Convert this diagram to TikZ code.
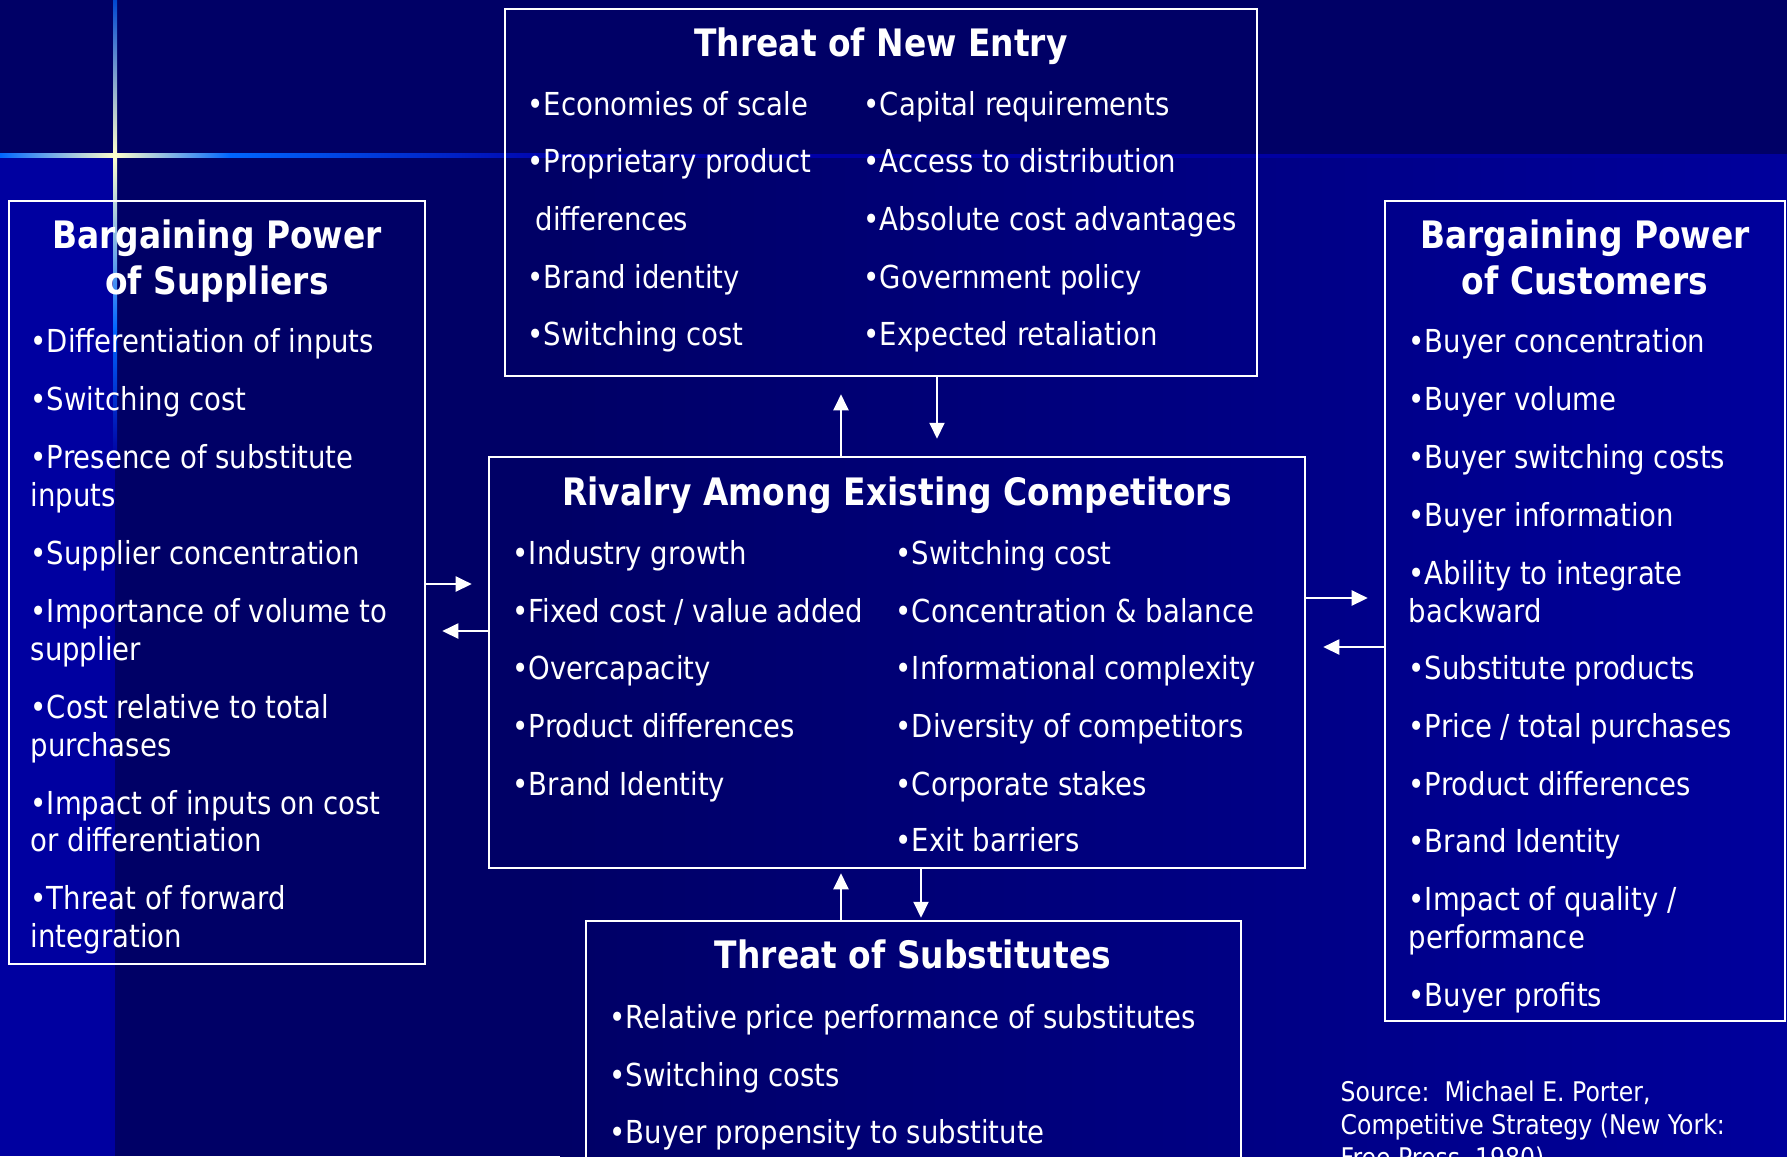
\documentclass[tikz,border=0pt]{standalone}
\usepackage{fontspec}
\setmainfont{DejaVu Sans}[FakeStretch=0.87]
\usetikzlibrary{arrows.meta, fit}
\definecolor{navy}{HTML}{000066}
\definecolor{deepblue}{HTML}{00009C}
\definecolor{stripblue}{HTML}{0000A0}
\definecolor{flareblue}{HTML}{0066FF}
\definecolor{flaredim}{HTML}{0000AA}
\definecolor{flarecore}{HTML}{FFFFCC}
\tikzset{>={Triangle[length=0.16cm, width=0.15cm]}}
\tikzset{
  box/.style={draw=white, line width=0.025cm, inner sep=0pt},
  head/.style={text=white, inner sep=0pt, anchor=base, font=\bfseries\fontsize{10.75}{13}\selectfont},
  item/.style={text=white, inner sep=0pt, anchor=base west, font=\fontsize{9}{11}\selectfont},
  source/.style={text=white, inner sep=0pt, anchor=base west, font=\fontsize{7.7}{9}\selectfont},
  link/.style={->, draw=white, line width=0.02cm},
}

\begin{document}
\begin{tikzpicture}[x=0.01cm, y=-0.01cm]
\useasboundingbox (0,0) rectangle (1787,1156);
\clip (0,0) rectangle (1787,1156);

% background
\fill[navy] (0,0) rectangle (1787,157);
\fill[stripblue] (0,157) rectangle (115,1156);
\fill[navy] (115,157) rectangle (560,1156);
\shade[left color=navy, right color=deepblue] (560,157) rectangle (1787,1156);

% light flare
\shade[left color=flaredim, right color=deepblue] (560,154) rectangle (1787,157);
\shade[left color=flareblue, right color=flaredim] (230,153) rectangle (560,157);
\shade[left color=flarecore, right color=flareblue] (115,153) rectangle (230,157);
\shade[left color=flareblue, right color=flarecore] (0,153) rectangle (115,157);
\shade[top color=flareblue!70!navy, bottom color=flarecore] (113,0) rectangle (117,155);
\shade[top color=flarecore, bottom color=flareblue] (113,155) rectangle (117,330);
\shade[top color=flareblue, bottom color=stripblue] (113,330) rectangle (117,460);

% boxes
\node[box, fit={(505,9) (1257,376)}] (entry) {};
\node[box, fit={(9,201) (425,964)}] (supplier) {};
\node[box, fit={(489,457) (1305,868)}] (rivalry) {};
\node[box, fit={(1385,201) (1785,1021)}] (buyer) {};
\node[box, fit={(586,921) (1241,1200)}] (substitute) {};

% arrows between the forces
\coordinate (colA) at (841,0);
\coordinate (colB) at (937,0);
\coordinate (colC) at (921,0);
\coordinate (rowA) at (0,584);
\coordinate (rowB) at (0,631);
\coordinate (rowC) at (0,598);
\coordinate (rowD) at (0,647);
\draw[link, shorten >=0.17cm] (rivalry.north -| colA) -- (entry.south -| colA);
\draw[link, shorten >=0.17cm] (entry.south -| colB) -- (rivalry.north -| colB);
\draw[link, shorten >=0.16cm] (supplier.east |- rowA) -- (rivalry.west |- rowA);
\draw[link, shorten >=0.16cm] (rivalry.west |- rowB) -- (supplier.east |- rowB);
\draw[link, shorten >=0.16cm] (rivalry.east |- rowC) -- (buyer.west |- rowC);
\draw[link, shorten >=0.17cm] (buyer.west |- rowD) -- (rivalry.east |- rowD);
\draw[link, shorten >=0.04cm] (substitute.north -| colA) -- (rivalry.south -| colA);
\draw[link, shorten >=0.02cm] (rivalry.south -| colC) -- (substitute.north -| colC);

% threat of new entry
\node[head] (entry-t) at (881,56) {Threat of New Entry};
\foreach \y/\t [count=\i] in {115/{•Economies of scale}, 172/{•Proprietary product},
    288/{•Brand identity}, 345/{•Switching cost}}
  \node[item] (entry-l\i) at (527,\y) {\t};
\node[item] (entry-l5) at (535,230) {differences};
\foreach \y/\t [count=\i] in {115/{•Capital requirements}, 172/{•Access to distribution},
    230/{•Absolute cost advantages}, 288/{•Government policy}, 345/{•Expected retaliation}}
  \node[item] (entry-r\i) at (863,\y) {\t};

% suppliers
\node[head] (supplier-t1) at (217,248) {Bargaining Power};
\node[head] (supplier-t2) at (217,294) {of Suppliers};
\foreach \y/\t [count=\i] in {352/{•Differentiation of inputs}, 410/{•Switching cost},
    468/{•Presence of substitute}, 506/inputs, 564/{•Supplier concentration},
    622/{•Importance of volume to}, 660/supplier, 718/{•Cost relative to total},
    756/purchases, 814/{•Impact of inputs on cost}, 851/{or differentiation},
    909/{•Threat of forward}, 947/integration}
  \node[item] (supplier-\i) at (30,\y) {\t};

% rivalry
\node[head] (rivalry-t) at (897,505) {Rivalry Among Existing Competitors};
\foreach \y/\t [count=\i] in {564/{•Industry growth}, 622/{•Fixed cost / value added},
    679/{•Overcapacity}, 737/{•Product differences}, 795/{•Brand Identity}}
  \node[item] (rivalry-l\i) at (512,\y) {\t};
\foreach \y/\t [count=\i] in {564/{•Switching cost}, 622/{•Concentration \& balance},
    679/{•Informational complexity}, 737/{•Diversity of competitors},
    795/{•Corporate stakes}, 851/{•Exit barriers}}
  \node[item] (rivalry-r\i) at (895,\y) {\t};

% customers
\node[head] (buyer-t1) at (1585,248) {Bargaining Power};
\node[head] (buyer-t2) at (1585,294) {of Customers};
\foreach \y/\t [count=\i] in {352/{•Buyer concentration}, 410/{•Buyer volume},
    468/{•Buyer switching costs}, 526/{•Buyer information}, 584/{•Ability to integrate},
    622/backward, 679/{•Substitute products}, 737/{•Price / total purchases},
    795/{•Product differences}, 852/{•Brand Identity}, 910/{•Impact of quality /},
    948/performance, 1006/{•Buyer profits}}
  \node[item] (buyer-\i) at (1408,\y) {\t};

% substitutes
\node[head] (substitute-t) at (913,968) {Threat of Substitutes};
\foreach \y/\t [count=\i] in {1028/{•Relative price performance of substitutes},
    1086/{•Switching costs}, 1143/{•Buyer propensity to substitute}}
  \node[item] (substitute-\i) at (609,\y) {\t};

% reference
\node[source] (src1) at (1340,1101) {Source:\ \ Michael E. Porter,};
\node[source] (src2) at (1340,1134) {Competitive Strategy (New York:};
\node[source] (src3) at (1340,1167) {Free Press, 1980)};
\end{tikzpicture}
\end{document}
